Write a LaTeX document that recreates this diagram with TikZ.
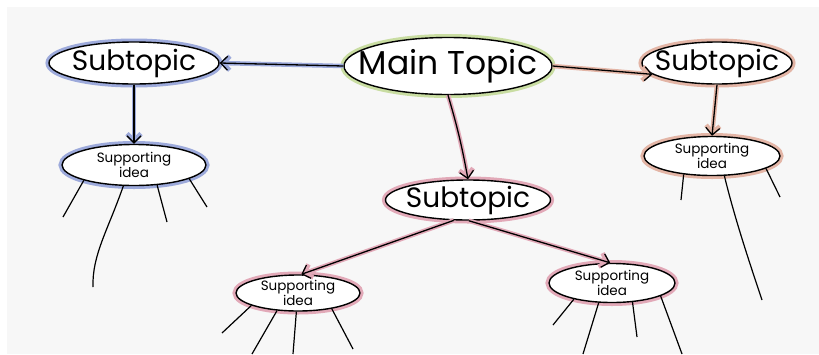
\documentclass[tikz,border=0pt]{standalone}
\usepackage{fontspec}
\setmainfont{Poppins}
\usetikzlibrary{arrows.meta,shapes.geometric}
\definecolor{bgc}{HTML}{F7F7F7}
\definecolor{greenc}{HTML}{C9DDA2}
\definecolor{bluec}{HTML}{9DAADB}
\definecolor{tanc}{HTML}{E3B5A6}
\definecolor{pinkc}{HTML}{E2A9B8}
\tikzset{
  bubble/.style={ellipse, draw=black, line width=1.4pt, inner sep=0pt, fill=white,
     preaction={draw=#1, line width=7pt}},
  maintext/.style={font=\fontsize{33}{33}\selectfont, inner sep=0pt},
  subtext/.style={font=\fontsize{28}{28}\selectfont, inner sep=0pt},
  supptext/.style={font=\fontsize{13.5}{12}\selectfont, align=center, inner sep=0pt},
  link/.style={draw=black, line width=1.3pt, -{Straight Barb[length=7pt,width=14pt,line width=1.3pt]},
     preaction={draw=#1, line width=4.5pt, -{Straight Barb[length=7pt,width=14pt,line width=4.5pt]}}},
  leg/.style={draw=black, line width=1.2pt},
}
\begin{document}
\begin{tikzpicture}[x=1pt,y=-1pt]
\fill[white] (0,0) rectangle (819,354);
\fill[bgc] (7,7) rectangle (819,354);
\useasboundingbox (0,0) rectangle (819,354);

% nodes
\node[bubble=greenc, minimum width=208pt, minimum height=57pt,
  label={[maintext]center:Main Topic}] (main) at (448,66) {};
\node[bubble=bluec, minimum width=170pt, minimum height=42pt,
  label={[subtext]center:Subtopic}] (subL) at (134,63) {};
\node[bubble=tanc, minimum width=150pt, minimum height=42pt,
  label={[subtext]center:Subtopic}] (subR) at (717,63) {};
\node[bubble=pinkc, minimum width=165pt, minimum height=40pt,
  label={[subtext]center:Subtopic}] (subM) at (468,200) {};
\node[bubble=bluec, minimum width=144pt, minimum height=41pt,
  label={[supptext]center:Supporting\\idea}] (supL) at (134,165) {};
\node[bubble=tanc, minimum width=136pt, minimum height=39pt,
  label={[supptext]center:Supporting\\idea}] (supR) at (712,156) {};
\node[bubble=pinkc, minimum width=124pt, minimum height=36pt,
  label={[supptext]center:Supporting\\idea}] (supBL) at (298,293) {};
\node[bubble=pinkc, minimum width=126pt, minimum height=39pt,
  label={[supptext]center:Supporting\\idea}] (supBR) at (612,283) {};

% links
\draw[link=bluec] (main.west) -- (subL.east);
\draw[link=tanc] (main.east) -- (subR.-170);
\draw[link=pinkc] (main.south) to[bend left=3] (subM.north);
\draw[link=bluec] (subL.south) -- (supL.north);
\draw[link=tanc] (subR.south) -- (supR.north);
\draw[link=pinkc] (subM.-125) -- (supBL.80);
\draw[link=pinkc] (subM.-88) -- (supBR.95);

% legs
\coordinate (a1) at (63,217); \coordinate (a2) at (93,287);
\coordinate (a3) at (167,222); \coordinate (a4) at (207,207);
\draw[leg] (supL.-163) -- (a1);
\draw[leg] (supL.-117) .. controls (108,230) and (92,255) .. (a2);
\draw[leg] (supL.-41) -- (a3);
\draw[leg] (supL.-14) -- (a4);

\coordinate (b1) at (681,200); \coordinate (b2) at (762,300); \coordinate (b3) at (780,197);
\draw[leg] (supR.-147) -- (b1);
\draw[leg] (supR.-58) .. controls (735,220) and (752,270) .. (b2);
\draw[leg] (supR.-13) -- (b3);

\coordinate (c1) at (222,333); \coordinate (c2) at (252,354);
\coordinate (c3) at (293,354); \coordinate (c4) at (353,349);
\draw[leg] (supBL.-165) -- (c1);
\draw[leg] (supBL.-140) -- (c2);
\draw[leg] (supBL.-95) -- (c3);
\draw[leg] (supBL.-25) -- (c4);

\coordinate (d1) at (553,325); \coordinate (d2) at (583,354);
\coordinate (d3) at (637,337); \coordinate (d4) at (682,354);
\draw[leg] (supBR.-157) -- (d1);
\draw[leg] (supBR.-124) -- (d2);
\draw[leg] (supBR.-43) -- (d3);
\draw[leg] (supBR.-15) -- (d4);
\end{tikzpicture}
\end{document}
